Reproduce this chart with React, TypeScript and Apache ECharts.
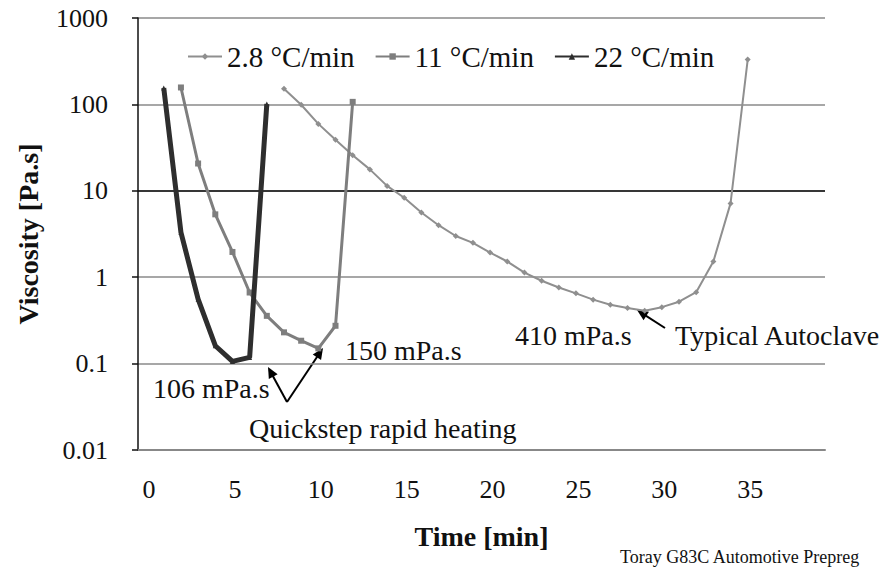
import React, { useEffect, useRef } from "react";
import * as echarts from "echarts";

// ---- data ----
const timeCategories = [
  "0", "1", "2", "3", "4", "5", "6", "7", "8", "9",
  "10", "11", "12", "13", "14", "15", "16", "17", "18", "19",
  "20", "21", "22", "23", "24", "25", "26", "27", "28", "29",
  "30", "31", "32", "33", "34", "35", "36", "37", "38", "39",
];
const yTickLabels = ["0.01", "0.1", "1", "10", "100", "1000"];
const seriesNames = ["2.8 °C/min", "11 °C/min", "22 °C/min"];

const time28 = [8, 9, 10, 11, 12, 13, 14, 15, 16, 17, 18, 19, 20, 21, 22, 23, 24, 25, 26, 27, 28, 29, 30, 31, 32, 33, 34, 35];
const visc28 = [152, 99, 59.5, 39, 25.8, 17.7, 11.4, 8.3, 5.6, 4.0, 3.0, 2.5, 1.93, 1.52, 1.13, 0.91, 0.76, 0.65, 0.55, 0.48, 0.44, 0.41, 0.45, 0.52, 0.67, 1.52, 7.15, 330];

const time11 = [2, 3, 4, 5, 6, 7, 8, 9, 10, 11, 12];
const visc11 = [157, 20.7, 5.34, 1.96, 0.665, 0.357, 0.23, 0.184, 0.15, 0.274, 107];

const time22 = [1, 2, 3, 4, 5, 6, 7];
const visc22 = [155, 3.3, 0.557, 0.161, 0.106, 0.118, 101];

const FONT = "'Liberation Serif', 'Times New Roman', serif";

function pairs(xs: number[], ys: number[]) {
  return xs.map((x, i) => [x, ys[i]]);
}

function arrow(x1: number, y1: number, x2: number, y2: number) {
  const dx = x2 - x1;
  const dy = y2 - y1;
  const len = Math.sqrt(dx * dx + dy * dy);
  const ux = dx / len;
  const uy = dy / len;
  const hl = 11;
  const hw = 5;
  const bx = x2 - ux * hl;
  const by = y2 - uy * hl;
  return [
    {
      type: "line",
      shape: { x1, y1, x2: bx + ux * 2, y2: by + uy * 2 },
      style: { stroke: "#000", lineWidth: 2 },
      silent: true,
    },
    {
      type: "polygon",
      shape: {
        points: [
          [x2, y2],
          [bx - uy * hw, by + ux * hw],
          [bx + uy * hw, by - ux * hw],
        ],
      },
      style: { fill: "#000" },
      silent: true,
    },
  ];
}

function textEl(x: number, y: number, text: string, size = 28) {
  return {
    type: "text",
    x,
    y,
    style: {
      text,
      fill: "#111",
      font: `${size}px ${FONT}`,
      textAlign: "left",
      textVerticalAlign: "middle",
    },
    silent: true,
  };
}

export default function App() {
  const ref = useRef<HTMLDivElement>(null);

  useEffect(() => {
    if (!ref.current) return;
    const chart = echarts.init(ref.current, null, { renderer: "svg" });

    const option: any = {
      animation: false,
      backgroundColor: "#fff",
      textStyle: { fontFamily: FONT },
      grid: { left: 138, right: 67, top: 18, bottom: 123, containLabel: false },
      legend: {
        left: 182,
        top: 37,
        itemWidth: 34,
        itemHeight: 8,
        itemGap: 20,
        textStyle: { fontFamily: FONT, fontSize: 29, color: "#111" },
        data: seriesNames,
      },
      xAxis: {
        type: "category",
        data: timeCategories,
        boundaryGap: true,
        name: "Time [min]",
        nameLocation: "middle",
        nameGap: 72,
        nameTextStyle: { fontFamily: FONT, fontSize: 28, fontWeight: "bold", color: "#111" },
        axisLine: { lineStyle: { color: "#888", width: 2 } },
        axisTick: { inside: true, length: 6, interval: 4, lineStyle: { color: "#666", width: 1.5 } },
        axisLabel: { interval: 4, margin: 26, padding: [0, 0, 0, 5], fontFamily: FONT, fontSize: 26, color: "#111" },
        splitLine: { show: false },
      },
      yAxis: {
        type: "log",
        logBase: 10,
        min: 0.01,
        max: 1000,
        name: "Viscosity [Pa.s]",
        nameLocation: "middle",
        nameGap: 96,
        nameTextStyle: { fontFamily: FONT, fontSize: 28, fontWeight: "bold", color: "#111" },
        axisLine: { show: true, lineStyle: { color: "#111", width: 1.5 } },
        axisTick: { show: true, length: 6, lineStyle: { color: "#111", width: 1.5 } },
        axisLabel: {
          margin: 30,
          fontFamily: FONT,
          fontSize: 26,
          color: "#111",
          formatter: (v: number) => yTickLabels[Math.round(Math.log10(v)) + 2] ?? String(v),
        },
        splitLine: { show: true, lineStyle: { color: "#8a8a8a", width: 1.5 } },
      },
      series: [
        {
          name: seriesNames[0],
          type: "line",
          data: pairs(time28, visc28),
          symbol: "diamond",
          symbolSize: 6,
          itemStyle: { color: "#8f8f8f" },
          lineStyle: { color: "#8f8f8f", width: 2 },
          z: 3,
          markLine: {
            silent: true,
            symbol: "none",
            label: { show: false },
            lineStyle: { color: "#111", width: 1.5, type: "solid" },
            data: [{ yAxis: 10 }],
            z: 1,
          },
        },
        {
          name: seriesNames[1],
          type: "line",
          data: pairs(time11, visc11),
          symbol: "rect",
          symbolSize: 6,
          itemStyle: { color: "#7e7e7e" },
          lineStyle: { color: "#7e7e7e", width: 3 },
          z: 4,
        },
        {
          name: seriesNames[2],
          type: "line",
          data: pairs(time22, visc22),
          symbol: "triangle",
          symbolSize: 5,
          itemStyle: { color: "#2e2e2e" },
          lineStyle: { color: "#2e2e2e", width: 5 },
          z: 5,
        },
      ],
      graphic: [
        textEl(153, 388, "106 mPa.s"),
        textEl(345, 350, "150 mPa.s"),
        textEl(249, 428, "Quickstep rapid heating"),
        textEl(515, 335, "410 mPa.s"),
        textEl(675, 335, "Typical Autoclave"),
        textEl(620, 557, "Toray G83C Automotive Prepreg", 18),
        ...arrow(287, 402, 268, 367),
        ...arrow(287, 402, 323, 348),
        ...arrow(665, 328, 637, 310),
      ],
    };

    chart.setOption(option);
    return () => chart.dispose();
  }, []);

  return (
    <div
      ref={ref}
      style={{ position: "fixed", left: 0, top: 0, width: 892, height: 573, background: "#fff" }}
    />
  );
}
